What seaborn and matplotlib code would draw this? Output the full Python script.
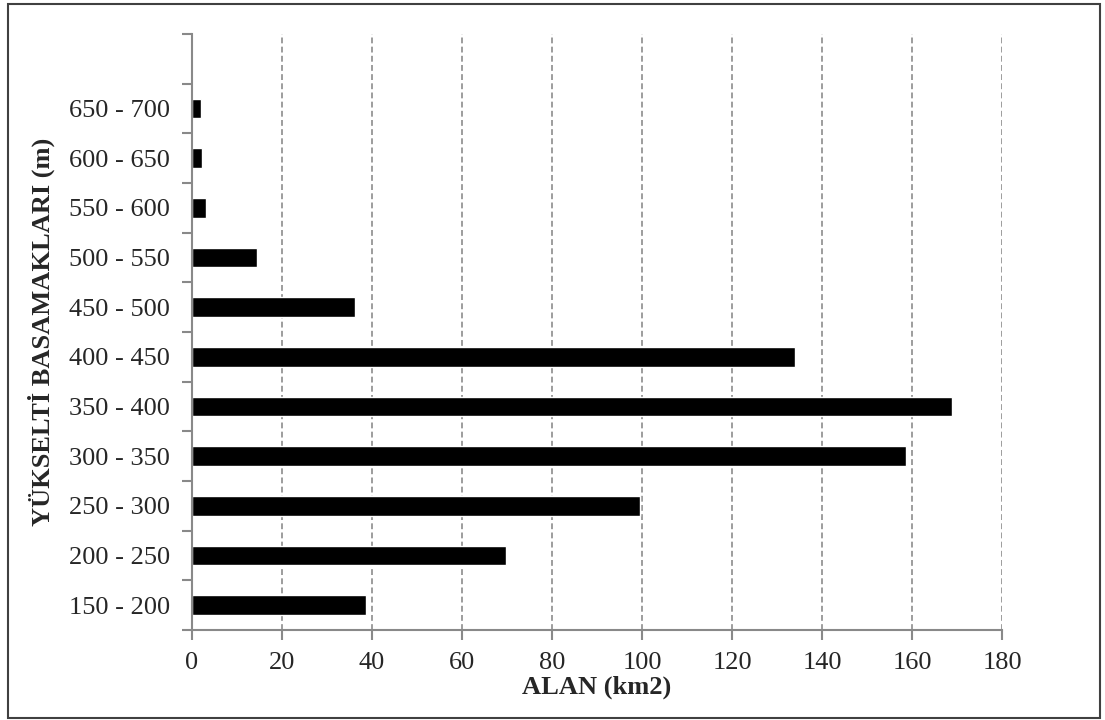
import matplotlib
matplotlib.use("Agg")
import matplotlib.pyplot as plt
import matplotlib.patches as mpatches
import seaborn as sns
import pandas as pd

# Data
categories = ["650 - 700", "600 - 650", "550 - 600", "500 - 550", "450 - 500",
              "400 - 450", "350 - 400", "300 - 350", "250 - 300", "200 - 250",
              "150 - 200"]
area_km2 = [2.0, 2.2, 3.1, 14.4, 36.2, 134.0, 168.9, 158.7, 99.6, 69.8, 38.7]
x_ticks = [0, 20, 40, 60, 80, 100, 120, 140, 160, 180]

df = pd.DataFrame({"kademe": categories, "alan": area_km2})

sns.set_style("white")
plt.rcParams["font.family"] = ["Liberation Serif", "DejaVu Serif"]

fig = plt.figure(figsize=(11.05, 7.2), dpi=100)
ax = fig.add_axes([0.1738, 0.125, 0.9068 - 0.1738, 0.9528 - 0.125])

sns.barplot(data=df, x="alan", y="kademe", order=categories, color="black",
            width=0.4, saturation=1, ax=ax)

axis_grey = "#898989"
ax.set_xlim(0, 180)
ax.set_ylim(len(categories) - 0.5, -1.5)
ax.set_xticks(x_ticks)
ax.set_yticks(range(len(categories)))
ax.set_yticks([i - 0.5 for i in range(-1, len(categories) + 1)], minor=True)

ax.grid(axis="x", color="#8c8c8c", linestyle=(0, (3.5, 2)), linewidth=1.2)
ax.set_axisbelow(True)

for side in ["top", "right"]:
    ax.spines[side].set_visible(False)
for side in ["left", "bottom"]:
    ax.spines[side].set_color(axis_grey)
    ax.spines[side].set_linewidth(1.5)

ax.tick_params(axis="y", which="major", length=0, pad=16, labelsize=19)
ax.tick_params(axis="y", which="minor", length=7, width=1.5, color=axis_grey,
               direction="out", left=True)
ax.tick_params(axis="x", which="major", length=7, width=1.5, color=axis_grey,
               direction="out", bottom=True, pad=9, labelsize=19)

ax.set_xlabel("ALAN (km2)", fontsize=19, fontweight="bold", labelpad=1)
ax.set_ylabel("YÜKSELTİ BASAMAKLARI (m)", fontsize=19, fontweight="bold",
              labelpad=10)

# outer frame around the chart
frame = mpatches.Rectangle((8 / 1105, 2 / 720), 1092 / 1105, 714 / 720,
                           transform=fig.transFigure, fill=False,
                           edgecolor="#404040", linewidth=1.5)
fig.patches.append(frame)

fig.savefig("out.png", dpi=100)
